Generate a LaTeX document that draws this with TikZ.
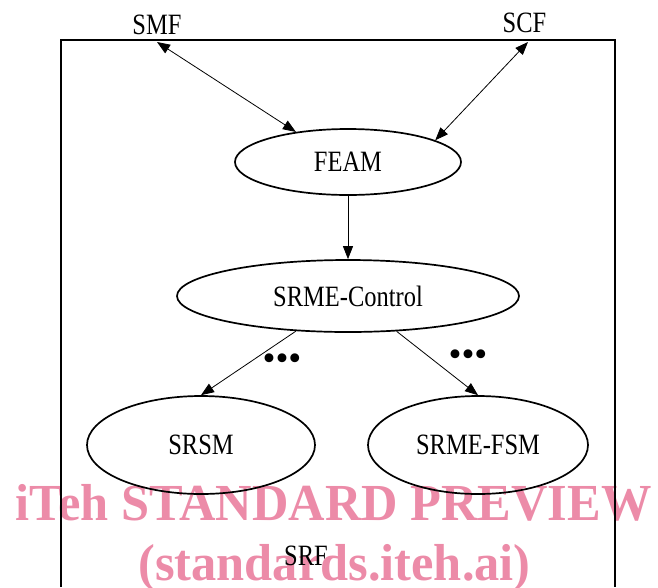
\documentclass[tikz,border=0pt]{standalone}
\usepackage{fontspec}
\setmainfont[FakeStretch=0.83]{Liberation Serif}
\newfontfamily\plainserif{Liberation Serif}
\newfontfamily\markfont[FakeStretch=0.97]{Liberation Serif}
\usetikzlibrary{shapes.geometric,arrows.meta}
\definecolor{markpink}{RGB}{236,139,168}
\tikzset{
  lbl/.style={inner sep=0pt, font=\fontsize{29.5}{31}\selectfont},
  proc/.style={ellipse, draw, line width=1.7pt, inner sep=0pt, lbl},
  link/.style={line width=0.8pt, -{Triangle[length=13pt,width=10pt]}},
  duplex/.style={line width=0.8pt, {Triangle[length=13pt,width=10pt]}-{Triangle[length=13pt,width=10pt]}},
  frame/.style={line width=1.4pt},
  more/.style={inner sep=0pt, font=\plainserif\fontsize{37}{39}\selectfont},
  wmtext/.style={inner sep=0pt, anchor=base, text=markpink, font=\markfont\bfseries\fontsize{52}{56}\selectfont}
}
\begin{document}
\begin{tikzpicture}[x=1pt,y=-1pt]
\useasboundingbox (0,0) rectangle (658,587);

% watermark lettering, behind the diagram
\node[wmtext] (wm1) at (333.5,520) {iTeh STANDARD PREVIEW};
\node[wmtext] (wm2) at (334.5,580) {(standards.iteh.ai)};

% SRF frame, open at the bottom
\draw[frame] (61,587) -- (61,40) -- (615,40) -- (615,587);

% external functions
\node[lbl] (smf) at (157,24.5) {SMF};
\node[lbl] (scf) at (524.5,23) {SCF};
\coordinate (smfend) at (157,42);
\coordinate (scfend) at (528,42);

% functional entities
\node[proc, minimum width=226pt, minimum height=66pt] (feam) at (348,162) {FEAM};
\node[proc, minimum width=342pt, minimum height=72pt] (ctrl) at (348,296) {SRME-Control};
\node[proc, minimum width=228pt, minimum height=98pt] (srsm) at (201,445) {SRSM};
\node[proc, minimum width=220pt, minimum height=98pt] (fsm) at (478,445) {SRME-FSM};
\node[lbl] (srf) at (306,555.5) {SRF};

% connectors
\draw[duplex] (smfend) -- (feam.150);
\draw[duplex] (scfend) -- (feam.14);
\draw[link] (feam.south) -- (ctrl.north);
\draw[link] (ctrl.-146) -- (srsm.north);
\draw[link] (ctrl.-36) -- (fsm.north);

% ellipsis marks beside the lower links
\node[more] (dotsl) at (282,362) {•••};
\node[more] (dotsr) at (468,358) {•••};
\end{tikzpicture}
\end{document}
